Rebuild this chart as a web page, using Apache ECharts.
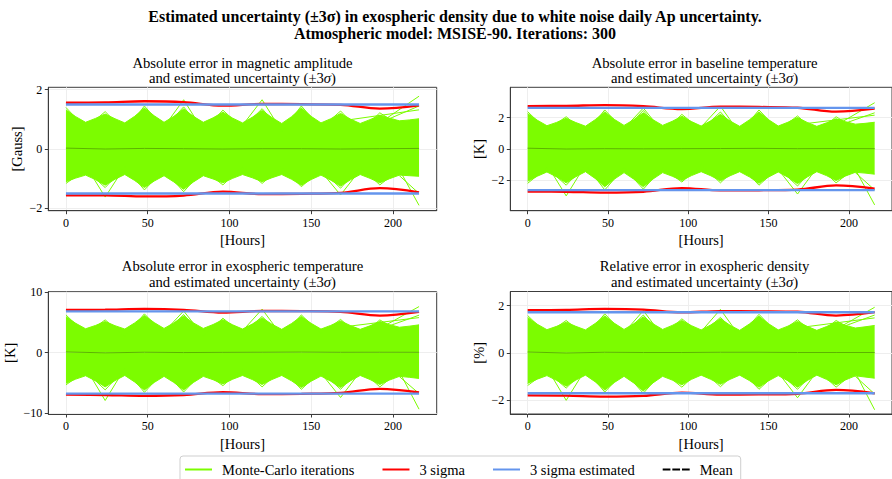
<!DOCTYPE html>
<html><head><meta charset="utf-8">
<script src="https://cdn.jsdelivr.net/npm/echarts@6/dist/echarts.min.js"></script>
<style>html,body{margin:0;padding:0;background:#fff}#c{width:892px;height:479px}</style>
</head><body><div id="c"></div><script>
// ---------- DATA ----------
const hours6 = [0,6,12,18, 24,30,36,42, 48,54,60,66, 72,78,84,90, 96,102,108,114, 120,126,132,138, 144,150,156,162, 168,174,180,186, 192,198,204,210, 216];
const hours24 = [0,24,48,72,96,120,144,168,192,216];
const xTicks = [0,50,100,150,200];

// Panel 1: magnetic amplitude [Gauss]
const magBandUp = [1.32,1.09,0.90,1.03, 1.18,1.02,0.88,1.10, 1.38,1.12,0.90,1.10, 1.35,1.10,0.90,1.05, 1.24,1.04,0.88,1.07, 1.30,1.06,0.86,1.09, 1.38,1.10,0.88,1.02, 1.20,1.01,0.86,0.99, 1.14,1.04,0.95,0.98, 1.02];
const magBandLo = [-1.10,-0.98,-0.88,-1.03, -1.22,-1.02,-0.86,-1.06, -1.30,-1.08,-0.90,-1.11, -1.36,-1.11,-0.90,-1.01, -1.14,-0.99,-0.86,-0.97, -1.10,-0.97,-0.86,-1.02, -1.22,-1.03,-0.88,-1.05, -1.25,-1.04,-0.86,-0.99, -1.14,-1.00,-0.88,-0.90, -0.92];
const magStrays = [
  [[12,-0.55],[24,-1.62],[36,-0.6]],
  [[60,0.75],[72,1.66],[84,0.6]],
  [[108,0.8],[120,1.66],[132,0.6]],
  [[156,-0.75],[168,-1.55],[180,-0.7]],
  [[192,0.88],[216,1.78]],
  [[180,0.6],[216,1.45]],
  [[156,0.85],[216,1.32]],
  [[204,-0.7],[216,-1.9]],
  [[192,-0.5],[204,-0.9],[216,-1.5]],
  [[0,1.4],[12,0.7],[24,1.26],[36,0.6],[48,1.45],[60,0.7],[72,1.42],[84,0.6],[96,1.31],[108,0.7],[120,1.36],[132,0.6],[144,1.45],[156,0.7],[168,1.28],[180,0.6],[192,1.22],[204,0.8]],
  [[0,-1.16],[12,-0.7],[24,-1.3],[36,-0.6],[48,-1.38],[60,-0.7],[72,-1.44],[84,-0.7],[96,-1.21],[108,-0.6],[120,-1.16],[132,-0.6],[144,-1.27],[156,-0.7],[168,-1.32],[180,-0.6],[192,-1.21],[204,-0.7]]
];
const magSigmaUp = [1.56,1.57,1.61,1.58,1.46,1.52,1.51,1.49,1.36,1.47];
const magSigmaLo = [-1.56,-1.56,-1.60,-1.57,-1.44,-1.52,-1.51,-1.48,-1.32,-1.46];
const magEstimated = [1.50,-1.50];
const magMean = [0.03,0.00,0.02,0.01,0.00,0.01,0.01,0.00,0.01,0.02];
const magTicks = [-2,0,2];

// Panel 2: baseline temperature [K]
const baseBandUp = [2.25,1.83,1.48,1.69, 1.95,1.68,1.45,1.86, 2.35,1.88,1.50,1.86, 2.30,1.86,1.50,1.76, 2.08,1.74,1.46,1.79, 2.20,1.78,1.44,1.85, 2.35,1.86,1.46,1.70, 2.00,1.69,1.44,1.66, 1.92,1.73,1.58,1.63, 1.70];
const baseBandLo = [-2.05,-1.73,-1.46,-1.77, -2.15,-1.76,-1.44,-1.87, -2.40,-1.91,-1.50,-1.91, -2.40,-1.91,-1.50,-1.73, -2.00,-1.69,-1.44,-1.70, -2.02,-1.70,-1.44,-1.77, -2.18,-1.78,-1.46,-1.79, -2.20,-1.78,-1.44,-1.69, -2.00,-1.71,-1.48,-1.53, -1.60];
const baseStrays = [
  [[12,-1.0],[24,-2.98],[36,-1.0]],
  [[60,1.3],[72,2.6],[84,1.1]],
  [[108,1.4],[120,2.72],[132,1.0]],
  [[156,-1.3],[168,-2.86],[180,-1.2]],
  [[192,1.5],[216,2.94]],
  [[180,1.0],[216,2.3]],
  [[156,1.4],[216,2.15]],
  [[204,-1.3],[216,-3.55]],
  [[192,-0.9],[204,-1.5],[216,-2.6]],
  [[0,2.37],[12,1.2],[24,2.05],[36,1.0],[48,2.48],[60,1.2],[72,2.45],[84,1.0],[96,2.2],[108,1.2],[120,2.35],[132,1.0],[144,2.48],[156,1.2],[168,2.1],[180,1.0],[192,2.05],[204,1.3]],
  [[0,-2.18],[12,-1.2],[24,-2.3],[36,-1.0],[48,-2.6],[60,-1.2],[72,-2.55],[84,-1.2],[96,-2.1],[108,-1.0],[120,-2.15],[132,-1.0],[144,-2.3],[156,-1.2],[168,-2.35],[180,-1.0],[192,-2.15],[204,-1.2]]
];
const baseSigmaUp = [2.73,2.74,2.79,2.72,2.54,2.69,2.67,2.62,2.37,2.56];
const baseSigmaLo = [-2.71,-2.72,-2.77,-2.72,-2.48,-2.63,-2.62,-2.58,-2.31,-2.52];
const baseEstimated = [2.61,-2.61];
const baseMean = [0.05,0.00,0.02,0.01,0.02,0.03,0.04,0.02,0.03,0.02];
const baseTicks = [-2,0,2];

// Panel 3: exospheric temperature [K]
const exoBandUp = [5.95,4.85,3.95,4.49, 5.15,4.46,3.90,4.91, 6.15,4.97,4.00,4.92, 6.05,4.92,4.00,4.65, 5.45,4.60,3.90,4.73, 5.75,4.71,3.85,4.82, 6.00,4.85,3.90,4.51, 5.25,4.48,3.85,4.44, 5.15,4.63,4.20,4.38, 4.60];
const exoBandLo = [-5.10,-4.41,-3.85,-4.68, -5.70,-4.66,-3.80,-4.88, -6.20,-4.96,-3.95,-4.96, -6.20,-4.96,-3.95,-4.51, -5.20,-4.43,-3.80,-4.48, -5.30,-4.48,-3.80,-4.70, -5.80,-4.76,-3.90,-4.76, -5.80,-4.70,-3.80,-4.48, -5.30,-4.56,-3.95,-4.11, -4.30];
const exoStrays = [
  [[12,-2.5],[24,-7.96],[36,-2.6]],
  [[60,3.4],[72,6.9],[84,2.8]],
  [[108,3.6],[120,7.2],[132,2.8]],
  [[156,-3.4],[168,-7.46],[180,-3.2]],
  [[192,4.0],[216,7.63]],
  [[180,2.7],[216,6.2]],
  [[156,3.8],[216,5.8]],
  [[204,-3.2],[216,-9.4]],
  [[192,-2.3],[204,-4.0],[216,-6.8]],
  [[0,6.25],[12,3.1],[24,5.42],[36,2.7],[48,6.42],[60,3.1],[72,6.3],[84,2.7],[96,5.7],[108,3.1],[120,6.0],[132,2.7],[144,6.25],[156,3.1],[168,5.5],[180,2.7],[192,5.42],[204,3.5]],
  [[0,-5.36],[12,-3.1],[24,-6.2],[36,-2.7],[48,-6.6],[60,-3.1],[72,-6.55],[84,-3.1],[96,-5.5],[108,-2.7],[120,-5.7],[132,-2.7],[144,-6.1],[156,-3.1],[168,-6.1],[180,-2.7],[192,-5.7],[204,-3.1]]
];
const exoSigmaUp = [7.08,7.12,7.25,7.10,6.63,6.90,6.88,6.75,6.14,6.75];
const exoSigmaLo = [-7.00,-7.05,-7.18,-7.05,-6.57,-6.90,-6.85,-6.70,-6.02,-6.63];
const exoEstimated = [6.82,-6.82];
const exoMean = [0.10,-0.05,0.05,0.00,0.03,0.05,0.08,0.04,0.05,0.04];
const exoTicks = [-10,0,10];

// Panel 4: exospheric density [%]
const denBandUp = [1.50,1.21,0.98,1.12, 1.30,1.12,0.97,1.24, 1.56,1.25,0.99,1.23, 1.52,1.23,0.99,1.16, 1.37,1.15,0.97,1.18, 1.44,1.17,0.95,1.22, 1.55,1.23,0.97,1.13, 1.33,1.12,0.95,1.11, 1.30,1.16,1.05,1.10, 1.16];
const denBandLo = [-1.30,-1.12,-0.97,-1.17, -1.42,-1.16,-0.95,-1.23, -1.58,-1.26,-1.00,-1.28, -1.62,-1.28,-1.00,-1.16, -1.36,-1.13,-0.95,-1.13, -1.34,-1.13,-0.95,-1.18, -1.46,-1.19,-0.97,-1.19, -1.46,-1.18,-0.95,-1.13, -1.36,-1.15,-0.98,-1.03, -1.08];
const denStrays = [
  [[12,-0.65],[24,-2.02],[36,-0.7]],
  [[60,0.85],[72,1.79],[84,0.7]],
  [[108,0.9],[120,1.84],[132,0.7]],
  [[156,-0.85],[168,-1.91],[180,-0.8]],
  [[192,1.0],[216,1.93]],
  [[180,0.7],[216,1.6]],
  [[156,0.95],[216,1.48]],
  [[204,-0.85],[216,-2.42]],
  [[192,-0.6],[204,-1.0],[216,-1.75]],
  [[0,1.58],[12,0.8],[24,1.37],[36,0.7],[48,1.65],[60,0.8],[72,1.6],[84,0.7],[96,1.44],[108,0.8],[120,1.5],[132,0.7],[144,1.63],[156,0.8],[168,1.4],[180,0.7],[192,1.37],[204,0.9]],
  [[0,-1.39],[12,-0.8],[24,-1.5],[36,-0.7],[48,-1.67],[60,-0.8],[72,-1.72],[84,-0.8],[96,-1.46],[108,-0.7],[120,-1.44],[132,-0.7],[144,-1.55],[156,-0.8],[168,-1.55],[180,-0.7],[192,-1.46],[204,-0.8]]
];
const denSigmaUp = [1.81,1.82,1.86,1.83,1.71,1.77,1.76,1.74,1.58,1.72];
const denSigmaLo = [-1.81,-1.82,-1.86,-1.83,-1.69,-1.78,-1.77,-1.74,-1.58,-1.72];
const denEstimated = [1.72,-1.72];
const denMean = [0.03,-0.01,0.02,0.01,0.01,0.02,0.02,0.01,0.01,0.01];
const denTicks = [-2,0,2];

const mainTitle = ['Estimated uncertainty (±3σ) in exospheric density due to white noise daily Ap uncertainty.', 'Atmospheric model: MSISE-90. Iterations: 300'];
const subTitles = [
  ['Absolute error in magnetic amplitude', 'and estimated uncertainty (±3{i|σ})'],
  ['Absolute error in baseline temperature', 'and estimated uncertainty (±3{i|σ})'],
  ['Absolute error in exospheric temperature', 'and estimated uncertainty (±3{i|σ})'],
  ['Relative error in exospheric density', 'and estimated uncertainty (±3{i|σ})']
];
const yNames = ['[Gauss]','[K]','[K]','[%]'];
const xName = '[Hours]';
const legendNames = ['Monte-Carlo iterations','3 sigma','3 sigma estimated','Mean'];

// ---------- LAYOUT ----------
const FONT = '"Liberation Serif", "Times New Roman", serif';
const GREEN = '#7CFC00', RED = '#FF0000', BLUE = '#6495ED', FRAME = '#3c3c3c';
const panels = [
  {band:[magBandUp,magBandLo], strays:magStrays, sig:[magSigmaUp,magSigmaLo], est:magEstimated, mean:magMean, ticks:magTicks,
   grid:{left:48.3,top:87.3,width:388.4,height:123.4}, y:[-2.08,2.08], nameGap:24, titleX:242.5, titleY:[63,78]},
  {band:[baseBandUp,baseBandLo], strays:baseStrays, sig:[baseSigmaUp,baseSigmaLo], est:baseEstimated, mean:baseMean, ticks:baseTicks,
   grid:{left:510.3,top:87.3,width:388.7,height:123.4}, y:[-3.92,3.92], nameGap:24, titleX:704.6, titleY:[63,78]},
  {band:[exoBandUp,exoBandLo], strays:exoStrays, sig:[exoSigmaUp,exoSigmaLo], est:exoEstimated, mean:exoMean, ticks:exoTicks,
   grid:{left:48.3,top:291.7,width:388.4,height:122.3}, y:[-10.2,10.1], nameGap:31, titleX:242.5, titleY:[266,281.5]},
  {band:[denBandUp,denBandLo], strays:denStrays, sig:[denSigmaUp,denSigmaLo], est:denEstimated, mean:denMean, ticks:denTicks,
   grid:{left:510.3,top:291.5,width:388.7,height:122.5}, y:[-2.6,2.6], nameGap:24, titleX:704.6, titleY:[266,281.5]}
];

const pairs = (xs, ys) => xs.map((x, i) => [x, ys[i]]);
const fmt = v => (v < 0 ? '\u2212' + (-v) : String(v));

const grids = [], xAxes = [], yAxes = [], series = [], graphics = [];
panels.forEach((p, i) => {
  grids.push(Object.assign({show:true, borderColor:FRAME, borderWidth:1, backgroundColor:'#fff'}, p.grid));
  xAxes.push({type:'value', gridIndex:i, min:-10.8, max:226.8, splitNumber:5,
    name:xName, nameLocation:'middle', nameGap:22,
    nameTextStyle:{fontFamily:FONT, fontSize:14.5, color:'#000'},
    axisLine:{show:true, onZero:false, lineStyle:{color:FRAME, width:1}},
    axisTick:{show:true, length:3.5, customValues:xTicks, lineStyle:{color:FRAME}},
    axisLabel:{customValues:xTicks, margin:6, fontFamily:FONT, fontSize:12, color:'#000', formatter:fmt},
    splitLine:{show:true, lineStyle:{color:'#eeeeee', width:1}}});
  yAxes.push({type:'value', gridIndex:i, min:p.y[0], max:p.y[1],
    name:yNames[i], nameLocation:'middle', nameGap:p.nameGap, nameRotate:90,
    nameTextStyle:{fontFamily:FONT, fontSize:14.5, color:'#000'},
    axisLine:{show:true, onZero:false, lineStyle:{color:FRAME, width:1}},
    axisTick:{show:true, length:3.5, customValues:p.ticks, lineStyle:{color:FRAME}},
    axisLabel:{customValues:p.ticks, margin:6, fontFamily:FONT, fontSize:12, color:'#000', formatter:fmt},
    splitLine:{show:true, lineStyle:{color:'#eeeeee', width:1}}});
  const base = {type:'line', xAxisIndex:i, yAxisIndex:i, symbol:'none', silent:true, animation:false};
  p.band.forEach(b => series.push(Object.assign({}, base, {name:'Monte-Carlo iterations', data:pairs(hours6, b), z:2,
    lineStyle:{color:GREEN, width:1}, itemStyle:{color:GREEN}, areaStyle:{color:GREEN, opacity:1, origin:'auto'}})));
  p.strays.forEach(s => series.push(Object.assign({}, base, {name:'Monte-Carlo iterations', data:s, z:3,
    lineStyle:{color:GREEN, width:1}, itemStyle:{color:GREEN}})));
  p.sig.forEach(s => series.push(Object.assign({}, base, {name:'3 sigma', data:pairs(hours24, s), z:4, smooth:0.35,
    lineStyle:{color:RED, width:2.3}, itemStyle:{color:RED}})));
  p.est.forEach(e => series.push(Object.assign({}, base, {name:'3 sigma estimated', data:[[0,e],[216,e]], z:5,
    lineStyle:{color:BLUE, width:2.3}, itemStyle:{color:BLUE}})));
  series.push(Object.assign({}, base, {name:'Mean', data:pairs(hours24, p.mean), z:6,
    lineStyle:{color:'#5cb400', width:1}, itemStyle:{color:'#000'}}));
  graphics.push({type:'text', x:p.titleX, y:p.titleY[0], style:{text:subTitles[i][0], fill:'#000', fontFamily:FONT, fontSize:14.7,
    textAlign:'center', textVerticalAlign:'middle', align:'center', verticalAlign:'middle'}});
  graphics.push({type:'text', x:p.titleX, y:p.titleY[1], style:{text:subTitles[i][1], fill:'#000', fontFamily:FONT, fontSize:14.7,
    textAlign:'center', textVerticalAlign:'middle', align:'center', verticalAlign:'middle', rich:{i:{fontStyle:'italic', fontFamily:FONT, fontSize:14.7}}}});
});
graphics.push({type:'text', x:455, y:16, style:{text:mainTitle[0], fill:'#000', fontFamily:FONT, fontSize:16, fontWeight:'bold',
  textAlign:'center', textVerticalAlign:'middle', align:'center', verticalAlign:'middle'}});
graphics.push({type:'text', x:455, y:33, style:{text:mainTitle[1], fill:'#000', fontFamily:FONT, fontSize:16, fontWeight:'bold',
  textAlign:'center', textVerticalAlign:'middle', align:'center', verticalAlign:'middle'}});

const chart = echarts.init(document.getElementById('c'), null, {renderer:'svg'});
chart.setOption({
  animation:false,
  backgroundColor:'#fff',
  textStyle:{fontFamily:FONT},
  grid:grids, xAxis:xAxes, yAxis:yAxes, series:series, graphic:graphics,
  legend:{
    show:true, selectedMode:false, left:180, top:456, orient:'horizontal',
    itemWidth:27, itemHeight:2, itemGap:28, symbolKeepAspect:false,
    padding:[6,8,6,5], borderColor:'#cfcfcf', borderWidth:1, borderRadius:3, backgroundColor:'#fff',
    formatter: name => '{s|}' + name,
    textStyle:{fontFamily:FONT, fontSize:14.5, color:'#000', rich:{s:{width:5}}},
    data:[
      {name:legendNames[0], icon:'rect'},
      {name:legendNames[1], icon:'rect'},
      {name:legendNames[2], icon:'rect'},
      {name:legendNames[3], icon:'path://M0,0H8V2H0Z M10,0H18V2H10Z M20,0H28V2H20Z'}
    ]
  }
});
</script></body></html>
